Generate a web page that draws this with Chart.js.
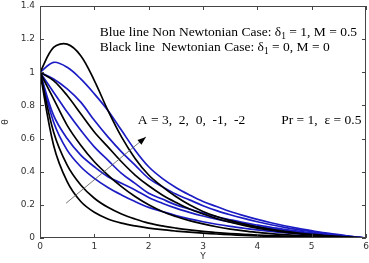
<!DOCTYPE html>
<html>
<head>
<meta charset="utf-8">
<script src="https://cdn.jsdelivr.net/npm/chart.js@4.4.0/dist/chart.umd.min.js"></script>
<style>
  html, body { margin: 0; padding: 0; background: #fff; }
  #wrap { width: 369px; height: 263px; }
</style>
</head>
<body>
<div id="wrap"><canvas id="main"></canvas></div>
<script>
// distance from the plate
const xs = [0,0.25,0.5,0.75,1,1.25,1.5,1.75,2,2.25,2.5,2.75,3,3.25,3.5,3.75,4,4.25,4.5,4.75,5,5.25,5.5,5.75,6];

// Newtonian (black), A = 3, 2, 0, -1, -2
const newtA3  = [1,1.15,1.17,1.1,0.95,0.77,0.61,0.48,0.38,0.31,0.25,0.2,0.16,0.13,0.105,0.085,0.067,0.052,0.04,0.03,0.022,0.015,0.009,0.004,0];
const newtA2  = [1,0.95,0.86,0.75,0.64,0.55,0.46,0.38,0.315,0.26,0.215,0.175,0.145,0.118,0.095,0.076,0.06,0.047,0.036,0.027,0.019,0.013,0.008,0.003,0];
const newtA0  = [1,0.84,0.68,0.56,0.46,0.38,0.31,0.25,0.2,0.16,0.13,0.105,0.085,0.068,0.054,0.043,0.034,0.026,0.02,0.015,0.011,0.007,0.004,0.002,0];
const newtAm1 = [1,0.64,0.44,0.32,0.24,0.185,0.145,0.115,0.09,0.073,0.06,0.049,0.04,0.033,0.027,0.022,0.018,0.014,0.011,0.008,0.006,0.004,0.003,0.001,0];
const newtAm2 = [1,0.56,0.34,0.22,0.155,0.115,0.09,0.073,0.06,0.05,0.042,0.035,0.029,0.024,0.02,0.016,0.013,0.01,0.008,0.006,0.004,0.003,0.002,0.001,0];

// non Newtonian (blue), A = 3, 2, 0, -1, -2
const nonA3  = [1,1.06,1.03,0.96,0.87,0.77,0.65,0.53,0.43,0.36,0.305,0.26,0.22,0.19,0.16,0.135,0.112,0.092,0.074,0.058,0.044,0.031,0.02,0.009,0];
const nonA2  = [1,0.96,0.9,0.82,0.71,0.61,0.52,0.44,0.36,0.31,0.265,0.23,0.195,0.165,0.14,0.118,0.098,0.08,0.064,0.05,0.038,0.027,0.017,0.008,0];
const nonA0  = [1,0.88,0.76,0.65,0.55,0.47,0.39,0.33,0.27,0.235,0.2,0.175,0.15,0.128,0.11,0.093,0.078,0.064,0.052,0.041,0.031,0.022,0.014,0.006,0];
const nonAm1 = [1,0.74,0.6,0.5,0.43,0.37,0.33,0.29,0.245,0.21,0.18,0.155,0.133,0.114,0.097,0.082,0.069,0.057,0.046,0.036,0.027,0.019,0.012,0.005,0];
const nonAm2 = [1,0.7,0.53,0.43,0.36,0.305,0.26,0.22,0.185,0.16,0.135,0.115,0.098,0.083,0.07,0.059,0.049,0.04,0.032,0.025,0.019,0.013,0.008,0.004,0];

const xTicks = [0,1,2,3,4,5,6];
const yTicks = [0,0.2,0.4,0.6,0.8,1,1.2,1.4];

const BLUE = '#1c1cc4';
const BLACK = '#000';

const toPts = ys => ys.map((y, i) => ({x: xs[i], y}));
const line = (ys, color) => ({
  data: toPts(ys),
  borderColor: color,
  borderWidth: 1.7,
  pointRadius: 0,
  fill: false,
  tension: 0.35,
});

const datasets = [
  line(newtA3, BLACK), line(newtA2, BLACK), line(newtA0, BLACK), line(newtAm1, BLACK), line(newtAm2, BLACK),
  line(nonA3, BLUE), line(nonA2, BLUE), line(nonA0, BLUE), line(nonAm1, BLUE), line(nonAm2, BLUE),
];

// draw pieces of text, some of them as lowered subscripts
const drawPieces = (ctx, x, y, pieces, size) => {
  pieces.forEach(p => {
    const sub = typeof p !== 'string';
    const s = sub ? p.sub : p;
    ctx.font = `${sub ? size * 0.7 : size}px "Liberation Serif", "Times New Roman", serif`;
    ctx.fillText(s, x, sub ? y + size * 0.3 : y);
    x += ctx.measureText(s).width;
  });
};

const decorations = {
  id: 'decorations',
  afterDatasetsDraw(chart) {
    const {ctx, chartArea: a, scales: {x, y}} = chart;
    ctx.save();
    // frame
    ctx.strokeStyle = '#444';
    ctx.lineWidth = 1;
    ctx.strokeRect(a.left + 0.5, a.top + 0.5, a.right - a.left - 1, a.bottom - a.top - 1);
    // inward ticks
    ctx.beginPath();
    xTicks.forEach(v => {
      const px = Math.round(x.getPixelForValue(v)) + 0.5;
      ctx.moveTo(px, a.bottom); ctx.lineTo(px, a.bottom - 4);
      ctx.moveTo(px, a.top); ctx.lineTo(px, a.top + 4);
    });
    yTicks.forEach(v => {
      const py = Math.round(y.getPixelForValue(v)) + 0.5;
      ctx.moveTo(a.left, py); ctx.lineTo(a.left + 4, py);
      ctx.moveTo(a.right, py); ctx.lineTo(a.right - 4, py);
    });
    ctx.stroke();

    // arrow for increasing A
    const x0 = x.getPixelForValue(0.48), y0 = y.getPixelForValue(0.21);
    const x1 = x.getPixelForValue(1.95), y1 = y.getPixelForValue(0.61);
    ctx.strokeStyle = '#555';
    ctx.lineWidth = 0.8;
    ctx.beginPath(); ctx.moveTo(x0, y0); ctx.lineTo(x1, y1); ctx.stroke();
    const ang = Math.atan2(y1 - y0, x1 - x0);
    ctx.fillStyle = '#000';
    ctx.beginPath();
    ctx.moveTo(x1, y1);
    ctx.lineTo(x1 - 9 * Math.cos(ang - 0.35), y1 - 9 * Math.sin(ang - 0.35));
    ctx.lineTo(x1 - 9 * Math.cos(ang + 0.35), y1 - 9 * Math.sin(ang + 0.35));
    ctx.closePath(); ctx.fill();

    // annotations
    ctx.fillStyle = '#000';
    ctx.textBaseline = 'middle';
    ctx.textAlign = 'left';
    const fs = 13.5;
    drawPieces(ctx, x.getPixelForValue(1.1), y.getPixelForValue(1.24),
      ['Blue line Non Newtonian Case: δ', {sub: '1'}, ' = 1, M = 0.5'], fs);
    drawPieces(ctx, x.getPixelForValue(1.1), y.getPixelForValue(1.15),
      ['Black line  Newtonian Case: δ', {sub: '1'}, ' = 0, M = 0'], fs);
    drawPieces(ctx, x.getPixelForValue(1.8), y.getPixelForValue(0.71),
      ['A = 3,  2,  0,  -1,  -2'], fs);
    drawPieces(ctx, x.getPixelForValue(4.44), y.getPixelForValue(0.71),
      ['Pr = 1,  ε = 0.5'], fs);
    ctx.restore();
  }
};

const tickFont = {family: '"DejaVu Sans", sans-serif', size: 9};

new Chart(document.getElementById('main'), {
  type: 'line',
  data: {datasets},
  plugins: [decorations],
  options: {
    responsive: true,
    maintainAspectRatio: false,
    animation: false,
    layout: {padding: {top: 6, right: 3, left: 0, bottom: 0}},
    plugins: {legend: {display: false}, tooltip: {enabled: false}},
    scales: {
      x: {
        type: 'linear', min: 0, max: 6,
        grid: {display: false, drawTicks: false},
        border: {display: false},
        afterBuildTicks: s => { s.ticks = xTicks.map(v => ({value: v})); },
        ticks: {font: tickFont, color: '#333', padding: 3, maxRotation: 0},
        title: {display: true, text: 'Y', font: tickFont, color: '#333', padding: {top: 0, bottom: 1}},
        afterFit: s => { s.height = 25; s.paddingLeft = 0; s.paddingRight = 0; },
      },
      y: {
        type: 'linear', min: 0, max: 1.4,
        grid: {display: false, drawTicks: false},
        border: {display: false},
        afterBuildTicks: s => { s.ticks = yTicks.map(v => ({value: v})); },
        ticks: {font: tickFont, color: '#333', padding: 5, callback: v => String(+v.toFixed(1))},
        title: {display: true, text: 'θ', font: tickFont, color: '#333', padding: 0},
        afterFit: s => { s.width = 40; s.paddingTop = 0; s.paddingBottom = 0; },
      },
    },
  },
});
</script>
</body>
</html>
